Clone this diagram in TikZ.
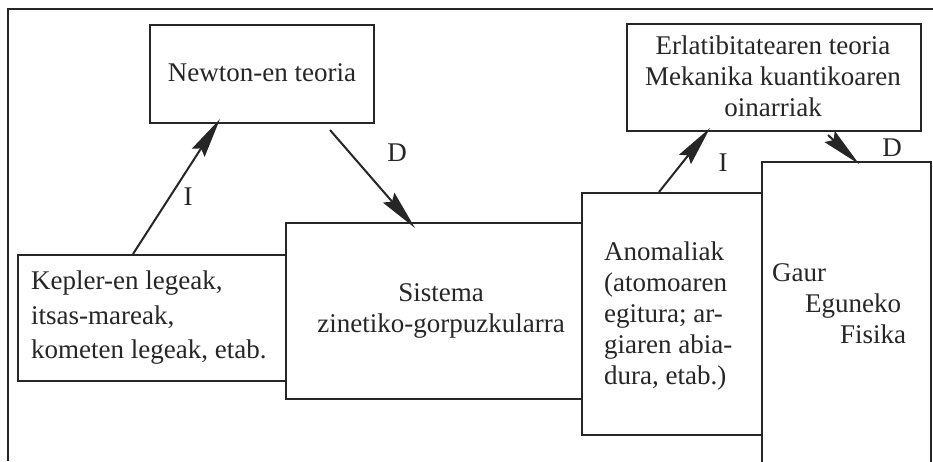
\documentclass[tikz,border=0pt]{standalone}
\usepackage{fontspec}
\setmainfont{Liberation Serif}
\usetikzlibrary{arrows.meta,calc}
\begin{document}
\begin{tikzpicture}[x=1pt,y=-1pt,
  box/.style={draw=black!85,line width=2pt,rectangle,inner sep=0pt,anchor=north west},
  txt/.style={inner sep=0pt,font=\fontsize{27}{31}\selectfont,text=black!85},
  arr/.style={draw=black!85,line width=2pt,-{Stealth[length=40pt,width=15pt,inset=5pt]}},
  lbl/.style={inner sep=0pt,font=\fontsize{27}{31}\selectfont,text=black!85}]
\clip (0,0) rectangle (933,461);
\fill[white] (0,0) rectangle (933,461);
% frame (top and left)
\coordinate (fa) at (933,9);
\coordinate (fb) at (8,9);
\coordinate (fc) at (8,461);
\draw[line width=2pt,black!85] (fa) -- (fb) -- (fc);
% boxes
\node[box,minimum width=224pt,minimum height=98pt] (newton) at (149,24) {};
\node[box,minimum width=294pt,minimum height=107pt] (erl) at (626,23) {};
\node[box,minimum width=268pt,minimum height=126pt] (kepler) at (17,254) {};
\node[box,minimum width=296pt,minimum height=176pt] (sistema) at (285,222) {};
\node[box,minimum width=180pt,minimum height=242pt] (anom) at (581,192) {};
\node[box,minimum width=169pt,minimum height=330pt] (gaur) at (761,161) {};
% texts
\node[txt] (tnewton) at (262,73) {Newton-en teoria};
\node[txt,align=center] (terl) at (773,76) {Erlatibitatearen teoria\\Mekanika kuantikoaren\\oinarriak};
\node[txt,align=left,anchor=west,font=\fontsize{27}{34.5}\selectfont] (tkepler) at (31,318) {Kepler-en legeak,\\itsas-mareak,\\kometen legeak, etab.};
\node[txt,align=center] (tsistema) at (441,311) {Sistema\\zinetiko-gorpuzkularra};
\node[txt,align=left,anchor=west] (tanom) at (604,316) {Anomaliak\\(atomoaren\\egitura; ar-\\giaren abia-\\dura, etab.)};
\node[txt,anchor=base west] (tgaur1) at (772,281) {Gaur};
\node[txt,anchor=base west] (tgaur2) at (805,312) {Eguneko};
\node[txt,anchor=base west] (tgaur3) at (840,343) {Fisika};
% arrows
\coordinate (a1s) at ([xshift=116pt]kepler.north west);
\coordinate (a1e) at ([xshift=71pt,yshift=5pt]newton.south west);
\draw[arr] (a1s) -- (a1e);
\coordinate (a2s) at ([xshift=-45pt,yshift=-6pt]newton.south east);
\coordinate (a2e) at ([xshift=130pt,yshift=-6pt]sistema.north west);
\draw[arr] (a2s) -- (a2e);
\coordinate (a3s) at ([xshift=78pt]anom.north west);
\coordinate (a3e) at ([xshift=84pt,yshift=4pt]erl.south west);
\draw[arr] (a3s) -- (a3e);
\coordinate (a4s) at ([xshift=202pt,yshift=-3pt]erl.south west);
\coordinate (a4e) at ([xshift=98pt,yshift=-3pt]gaur.north west);
\draw[arr] (a4s) -- (a4e);
% labels
\node[lbl] (li1) at (188,197) {I};
\node[lbl] (ld1) at (397,153) {D};
\node[lbl] (li2) at (723,163) {I};
\node[lbl] (ld2) at (892,148) {D};
\end{tikzpicture}
\end{document}
